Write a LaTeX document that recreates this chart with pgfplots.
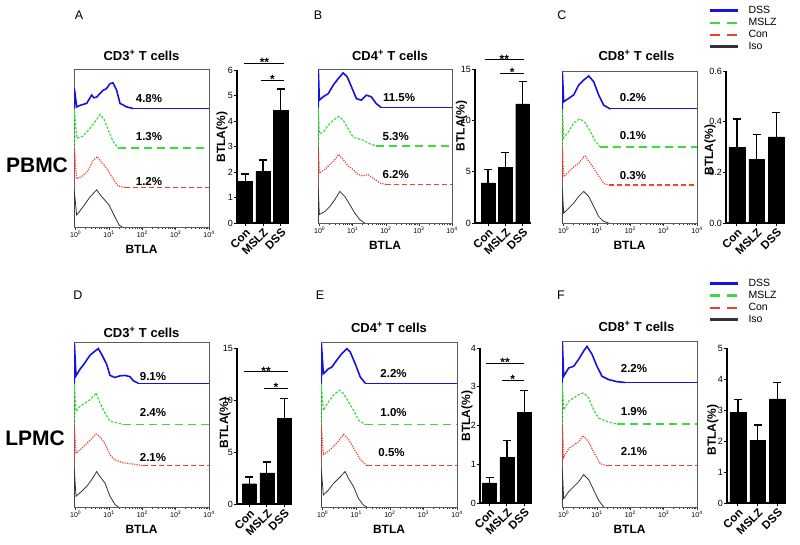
\documentclass[border=0pt]{standalone}
\usepackage{fontspec}
\setmainfont{Liberation Sans}
\usepackage{pgfplots}
\pgfplotsset{compat=1.18}
\definecolor{dssBlue}{HTML}{1414DC}
\definecolor{mslzGreen}{HTML}{3CDC3C}
\definecolor{conRed}{HTML}{F0402E}
\definecolor{isoGray}{HTML}{333333}
\newcommand{\fs}[1]{\fontsize{#1}{#1}\selectfont}

\pgfplotsset{
  hist/.style={
    scale only axis, anchor=north west,
    xmin=-0.05, xmax=4, ymin=0, ymax=4,
    xtick={0,1,2,3,4},
    xticklabels={10\textsuperscript{0},10\textsuperscript{1},10\textsuperscript{2},10\textsuperscript{3},10\textsuperscript{4}},
    minor xtick={0.301,0.477,0.602,0.699,0.778,0.845,0.903,0.954,
                 1.301,1.477,1.602,1.699,1.778,1.845,1.903,1.954,
                 2.301,2.477,2.602,2.699,2.778,2.845,2.903,2.954,
                 3.301,3.477,3.602,3.699,3.778,3.845,3.903,3.954},
    ytick=\empty, xtick pos=bottom, tick align=outside,
    major tick length=3pt, minor tick length=1.8pt,
    every tick/.style={isoGray, line width=0.5pt},
    axis line style={isoGray!80, line width=0.7pt},
    x tick label style={font=\fs{7}, inner sep=1pt},
    xlabel={\bfseries BTLA}, xlabel style={font=\fs{12}, yshift=-3pt},
    title style={font=\bfseries\fs{13}, yshift=-1pt},
    legend style={draw=none, fill=none, font=\fs{10.5}, inner sep=0pt,
      nodes={inner sep=1pt}, row sep=1.2pt, column sep=8pt, cells={anchor=west}},
  },
  dssc/.style={dssBlue, line width=1.6pt, forget plot},
  dsst/.style={dssBlue, line width=1pt, forget plot},
  mslzc/.style={mslzGreen, line width=1.2pt, dash pattern=on 2.5pt off 1.5pt, forget plot},
  mslzt/.style={mslzGreen, line width=1.2pt, dash pattern=on 8pt off 5pt, forget plot},
  conc/.style={conRed, line width=1.2pt, dash pattern=on 1.2pt off 1.2pt, forget plot},
  cont/.style={conRed, line width=1.1pt, dash pattern=on 5pt off 3pt, forget plot},
  iso/.style={isoGray, line width=0.8pt, forget plot},
  barax/.style={
    scale only axis, anchor=south west, ybar, bar width=0.8,
    ymin=0, axis lines=left, axis line style={-, line width=1.2pt},
    xtick={0,1,2}, xticklabels={Con,MSLZ,DSS},
    x tick label style={rotate=45, anchor=north east, font=\bfseries\fs{11.5}, inner sep=1pt},
    y tick label style={font=\fs{9}, inner sep=1pt},
    /pgf/number format/assume math mode=true,
    tick align=outside, major tick length=3pt,
    every tick/.style={black, line width=0.8pt},
    ylabel={\bfseries BTLA(\%)}, clip=false,
  },
  bars/.style={fill=black, draw=black,
    error bars/.cd, y dir=plus, y explicit,
    error bar style={black, line width=1.3pt},
    error mark=-,
    error mark options={rotate=90, black, line width=1.3pt, mark size=4pt}},
}
\tikzset{
  pct/.style={font=\bfseries\fs{11.5}},
  sig/.style={line width=1pt},
  star/.style={font=\bfseries\fs{12}, anchor=south, inner sep=0pt, yshift=-3.5pt},
}
\newcommand{\legdss}{\addlegendimage{legend image code/.code={\draw[dssBlue, line width=2.6pt] (0pt,0pt) -- (28pt,0pt);}}\addlegendentry{DSS}}
\newcommand{\legmslz}{\addlegendimage{legend image code/.code={\draw[mslzGreen, line width=2.2pt, dash pattern=on 10pt off 7pt] (0pt,0pt) -- (28pt,0pt);}}\addlegendentry{MSLZ}}
\newcommand{\legcon}{\addlegendimage{legend image code/.code={\draw[conRed, line width=2.2pt, dash pattern=on 10pt off 7pt] (0pt,0pt) -- (28pt,0pt);}}\addlegendentry{Con}}
\newcommand{\legiso}{\addlegendimage{legend image code/.code={\draw[isoGray, line width=2.6pt] (0pt,0pt) -- (28pt,0pt);}}\addlegendentry{Iso}}

\begin{document}
\begin{tikzpicture}
\useasboundingbox (0pt,0pt) rectangle (800pt,-545pt);

% row labels and panel letters
\node[font=\bfseries\fs{21}] at (37pt,-165pt) {PBMC};
\node[font=\bfseries\fs{21}] at (35pt,-438pt) {LPMC};
\node[font=\fs{12.5}] at (79pt,-15pt) {A};
\node[font=\fs{12.5}] at (318pt,-15pt) {B};
\node[font=\fs{12.5}] at (562pt,-15pt) {C};
\node[font=\fs{12.5}] at (78pt,-295pt) {D};
\node[font=\fs{12.5}] at (320pt,-295pt) {E};
\node[font=\fs{12.5}] at (561pt,-295pt) {F};

% ---------- A ----------
\begin{axis}[hist, at={(74pt,-69pt)}, width=135pt, height=158pt,
  title={CD3\textsuperscript{+} T cells}]
\addplot[dssc] coordinates {(-0.04,3)(-0.04,3.51)(0.03,3.04)(0.13,3.08)(0.33,3.13)(0.48,3.34)(0.55,3.27)(0.63,3.29)(0.82,3.46)(0.92,3.5)(1.03,3.63)(1.12,3.65)(1.23,3.46)(1.33,3.13)(1.53,3.04)(1.72,3)};
\addplot[dsst] coordinates {(1.72,3)(4,3)};
\addplot[mslzc] coordinates {(-0.04,2)(-0.04,2.98)(0.03,2.25)(0.22,2.30)(0.43,2.50)(0.64,2.73)(0.73,2.85)(0.85,2.73)(0.97,2.47)(1.12,2.17)(1.27,2)};
\addplot[mslzt] coordinates {(1.27,2)(4,2)};
\addplot[conc] coordinates {(-0.04,1)(-0.04,1.98)(0.03,1.22)(0.22,1.30)(0.37,1.42)(0.52,1.68)(0.64,1.78)(0.82,1.60)(0.94,1.47)(1.12,1.22)(1.27,1.04)(1.48,1)};
\addplot[cont] coordinates {(1.48,1)(4,1)};
\addplot[iso] coordinates {(-0.04,0)(-0.04,0.9)(0.03,0.30)(0.22,0.51)(0.43,0.76)(0.63,0.94)(0.75,0.80)(1.0,0.56)(1.15,0.30)(1.3,0.05)(1.4,0)};
\node[pct] at (axis cs:2.2,3.25) {4.8\%};
\node[pct] at (axis cs:2.2,2.28) {1.3\%};
\node[pct] at (axis cs:2.2,1.16) {1.2\%};
\end{axis}
\begin{axis}[barax, at={(237pt,-223pt)}, width=52pt, height=153pt,
  xmin=-0.46, xmax=2.46, ymax=6, ytick={0,1,...,6},
  ylabel style={at={(axis description cs:-0.29,0.56)}, anchor=center, font=\fs{12}}]
\addplot[bars] coordinates {(0,1.62) +- (0,0.30) (1,2.02) +- (0,0.45) (2,4.42) +- (0,0.83)};
\draw[sig] (axis cs:-0.04,6.25) -- (axis cs:2.2,6.25);
\node[star] at (axis cs:1.08,6.25) {**};
\draw[sig] (axis cs:0.86,5.6) -- (axis cs:2.2,5.6);
\node[star] at (axis cs:1.53,5.6) {*};
\end{axis}

% ---------- B ----------
\begin{axis}[hist, at={(318pt,-69pt)}, width=134pt, height=154pt,
  title={CD4\textsuperscript{+} T cells}, title style={xshift=5pt}]
\addplot[dssc] coordinates {(-0.04,3)(-0.04,3.98)(-0.01,3.19)(0.11,3.28)(0.26,3.36)(0.41,3.58)(0.56,3.75)(0.71,3.90)(0.83,3.80)(0.96,3.54)(1.11,3.23)(1.26,3.19)(1.41,3.32)(1.56,3.28)(1.71,3.10)(1.86,3)};
\addplot[dsst] coordinates {(1.86,3)(4,3)};
\addplot[mslzc] coordinates {(-0.04,2)(-0.04,2.98)(-0.01,2.32)(0.11,2.36)(0.26,2.54)(0.41,2.67)(0.56,2.75)(0.58,2.77)(0.71,2.67)(0.86,2.45)(1.01,2.23)(1.16,2.19)(1.31,2.15)(1.51,2.06)(1.71,2)};
\addplot[mslzt] coordinates {(1.71,2)(4,2)};
\addplot[conc] coordinates {(-0.04,1)(-0.04,1.98)(-0.01,1.30)(0.16,1.39)(0.31,1.52)(0.46,1.65)(0.58,1.78)(0.71,1.65)(0.86,1.48)(1.01,1.39)(1.16,1.26)(1.31,1.22)(1.46,1.26)(1.61,1.17)(1.81,1.04)(2.01,1)};
\addplot[cont] coordinates {(2.01,1)(4,1)};
\addplot[iso] coordinates {(-0.04,0)(-0.04,0.9)(-0.01,0.22)(0.16,0.30)(0.31,0.43)(0.46,0.61)(0.61,0.82)(0.76,0.69)(0.91,0.48)(1.06,0.26)(1.21,0.09)(1.36,0)};
\node[pct] at (axis cs:2.4,3.25) {11.5\%};
\node[pct] at (axis cs:2.3,2.24) {5.3\%};
\node[pct] at (axis cs:2.3,1.25) {6.2\%};
\end{axis}
\begin{axis}[barax, at={(475pt,-223pt)}, width=56pt, height=154pt,
  xmin=-0.75, xmax=2.48, ymax=15, ytick={0,5,10,15},
  ylabel style={at={(axis description cs:-0.24,0.63)}, anchor=center, font=\fs{12}}]
\addplot[bars] coordinates {(0,3.9) +- (0,1.3) (1,5.4) +- (0,1.5) (2,11.6) +- (0,2.2)};
\draw[sig] (axis cs:-0.2,15.9) -- (axis cs:2.08,15.9);
\node[star] at (axis cs:0.94,15.9) {**};
\draw[sig] (axis cs:0.7,14.6) -- (axis cs:2.08,14.6);
\node[star] at (axis cs:1.39,14.6) {*};
\end{axis}

% ---------- C ----------
\begin{axis}[hist, at={(562pt,-71pt)}, width=135pt, height=152pt,
  title={CD8\textsuperscript{+} T cells}, title style={xshift=7pt, yshift=2pt},
  legend style={at={(1.087,1.434)}, anchor=north west}]
\legdss \legmslz \legcon \legiso
\addplot[dssc] coordinates {(-0.04,3)(-0.04,3.98)(0.0,3.19)(0.15,3.28)(0.30,3.37)(0.45,3.63)(0.60,3.76)(0.75,3.87)(0.90,3.72)(1.05,3.37)(1.20,3.10)(1.40,3)};
\addplot[dsst] coordinates {(1.40,3)(4,3)};
\addplot[mslzc] coordinates {(-0.04,2)(-0.04,2.98)(0.0,2.24)(0.15,2.41)(0.30,2.63)(0.45,2.72)(0.50,2.74)(0.65,2.63)(0.80,2.41)(0.95,2.15)(1.10,2)};
\addplot[mslzt] coordinates {(1.10,2)(4,2)};
\addplot[conc] coordinates {(-0.04,1)(-0.04,1.98)(0.0,1.22)(0.15,1.35)(0.30,1.48)(0.45,1.57)(0.60,1.74)(0.65,1.76)(0.80,1.57)(1.0,1.31)(1.2,1.04)(1.35,1)};
\addplot[cont] coordinates {(1.35,1)(4,1)};
\addplot[iso] coordinates {(-0.04,0)(-0.04,0.9)(0.0,0.26)(0.15,0.39)(0.30,0.52)(0.45,0.70)(0.60,0.83)(0.75,0.70)(0.90,0.44)(1.05,0.17)(1.20,0.04)(1.35,0)};
\node[pct] at (axis cs:2.08,3.3) {0.2\%};
\node[pct] at (axis cs:2.08,2.3) {0.1\%};
\node[pct] at (axis cs:2.08,1.26) {0.3\%};
\end{axis}
\begin{axis}[barax, at={(726pt,-223pt)}, width=59pt, height=152pt,
  xmin=-0.55, xmax=2.43, ymax=0.6, ytick={0,0.2,0.4,0.6},
  yticklabel style={/pgf/number format/.cd, fixed, fixed zerofill, precision=1},
  ylabel style={at={(axis description cs:-0.27,0.48)}, anchor=center, font=\fs{12}}]
\addplot[bars] coordinates {(0,0.30) +- (0,0.11) (1,0.25) +- (0,0.10) (2,0.34) +- (0,0.095)};
\end{axis}

% ---------- D ----------
\begin{axis}[hist, at={(74pt,-342pt)}, width=135pt, height=165pt,
  title={CD3\textsuperscript{+} T cells}, title style={yshift=-4pt}]
\addplot[dssc] coordinates {(-0.04,3)(-0.04,3.98)(0.01,3.18)(0.13,3.34)(0.28,3.50)(0.43,3.68)(0.58,3.78)(0.68,3.84)(0.78,3.70)(0.93,3.46)(1.03,3.19)(1.18,3.14)(1.33,3.18)(1.48,3.19)(1.63,3.16)(1.73,3.06)(1.88,3)};
\addplot[dsst] coordinates {(1.88,3)(4,3)};
\addplot[mslzc] coordinates {(-0.04,2)(-0.04,2.98)(0.01,2.32)(0.13,2.44)(0.28,2.52)(0.43,2.60)(0.58,2.73)(0.61,2.77)(0.73,2.52)(0.88,2.28)(1.03,2.08)(1.23,2.04)(1.43,2)};
\addplot[mslzt] coordinates {(1.43,2)(4,2)};
\addplot[conc] coordinates {(-0.04,1)(-0.04,1.98)(0.01,1.30)(0.18,1.42)(0.33,1.54)(0.48,1.66)(0.61,1.77)(0.73,1.70)(0.88,1.54)(1.03,1.26)(1.18,1.14)(1.43,1.07)(1.73,1.04)(2.03,1)};
\addplot[cont] coordinates {(2.03,1)(4,1)};
\addplot[iso] coordinates {(-0.04,0)(-0.04,0.9)(0.01,0.26)(0.18,0.38)(0.33,0.50)(0.48,0.66)(0.63,0.86)(0.73,0.74)(0.88,0.58)(1.03,0.26)(1.18,0.06)(1.28,0)};
\node[pct] at (axis cs:2.32,3.17) {9.1\%};
\node[pct] at (axis cs:2.32,2.28) {2.4\%};
\node[pct] at (axis cs:2.32,1.21) {2.1\%};
\end{axis}
\begin{axis}[barax, at={(237pt,-504pt)}, width=55pt, height=156pt,
  xmin=-0.72, xmax=2.45, ymax=15, ytick={0,5,10,15},
  ylabel style={at={(axis description cs:-0.22,0.52)}, anchor=center, font=\fs{12}}]
\addplot[bars] coordinates {(0,1.95) +- (0,0.65) (1,3.0) +- (0,1.05) (2,8.25) +- (0,1.9)};
\draw[sig] (axis cs:-0.29,12.7) -- (axis cs:2.2,12.7);
\node[star] at (axis cs:0.96,12.7) {**};
\draw[sig] (axis cs:0.83,11.1) -- (axis cs:2.2,11.1);
\node[star] at (axis cs:1.52,11.1) {*};
\end{axis}

% ---------- E ----------
\begin{axis}[hist, at={(321pt,-342pt)}, width=136pt, height=165pt,
  title={CD4\textsuperscript{+} T cells}, title style={yshift=1pt}]
\addplot[dssc] coordinates {(-0.04,3)(-0.04,3.98)(0.02,3.23)(0.17,3.35)(0.27,3.39)(0.42,3.56)(0.57,3.72)(0.72,3.84)(0.82,3.76)(0.97,3.47)(1.12,3.15)(1.27,3)};
\addplot[dsst] coordinates {(1.27,3)(4,3)};
\addplot[mslzc] coordinates {(-0.04,2)(-0.04,2.98)(0.02,2.34)(0.17,2.55)(0.32,2.71)(0.49,2.83)(0.62,2.75)(0.77,2.55)(0.92,2.34)(1.07,2.10)(1.27,2)};
\addplot[mslzt] coordinates {(1.27,2)(4,2)};
\addplot[conc] coordinates {(-0.04,1)(-0.04,1.98)(0.02,1.27)(0.17,1.35)(0.32,1.47)(0.47,1.60)(0.62,1.76)(0.77,1.64)(0.92,1.43)(1.12,1.15)(1.32,1)};
\addplot[cont] coordinates {(1.32,1)(4,1)};
\addplot[iso] coordinates {(-0.04,0)(-0.04,0.9)(0.02,0.29)(0.17,0.41)(0.32,0.57)(0.52,0.73)(0.67,0.86)(0.77,0.69)(0.92,0.49)(1.07,0.20)(1.22,0.04)(1.32,0)};
\node[pct] at (axis cs:2.11,3.24) {2.2\%};
\node[pct] at (axis cs:2.11,2.28) {1.0\%};
\node[pct] at (axis cs:2.05,1.31) {0.5\%};
\end{axis}
\begin{axis}[barax, at={(480pt,-503pt)}, width=52pt, height=155pt,
  xmin=-0.55, xmax=2.45, ymax=4, ytick={0,1,...,4},
  ylabel style={at={(axis description cs:-0.25,0.56)}, anchor=center, font=\fs{12}}]
\addplot[bars] coordinates {(0,0.52) +- (0,0.14) (1,1.18) +- (0,0.43) (2,2.34) +- (0,0.57)};
\draw[sig] (axis cs:-0.18,3.6) -- (axis cs:1.98,3.6);
\node[star] at (axis cs:0.9,3.6) {**};
\draw[sig] (axis cs:0.7,3.17) -- (axis cs:1.98,3.17);
\node[star] at (axis cs:1.34,3.17) {*};
\end{axis}

% ---------- F ----------
\begin{axis}[hist, at={(562pt,-341pt)}, width=135pt, height=166pt,
  title={CD8\textsuperscript{+} T cells}, title style={xshift=7pt, yshift=1pt},
  legend style={at={(1.087,1.38)}, anchor=north west}]
\legdss \legmslz \legcon \legiso
\addplot[dssc] coordinates {(-0.04,3)(-0.04,3.98)(0.0,3.15)(0.15,3.35)(0.30,3.39)(0.45,3.56)(0.60,3.76)(0.70,3.87)(0.85,3.68)(1.0,3.39)(1.15,3.15)(1.35,3.07)(1.60,3.02)(1.85,3)};
\addplot[dsst] coordinates {(1.85,3)(4,3)};
\addplot[mslzc] coordinates {(-0.04,2)(-0.04,2.98)(0.0,2.34)(0.15,2.55)(0.30,2.63)(0.45,2.71)(0.60,2.75)(0.75,2.63)(0.90,2.34)(1.05,2.14)(1.30,2.06)(1.60,2)};
\addplot[mslzt] coordinates {(1.60,2)(4,2)};
\addplot[conc] coordinates {(-0.04,1)(-0.04,1.98)(0.0,1.20)(0.15,1.41)(0.30,1.49)(0.45,1.57)(0.58,1.72)(0.75,1.57)(0.90,1.33)(1.10,1.04)(1.30,1)};
\addplot[cont] coordinates {(1.30,1)(4,1)};
\addplot[iso] coordinates {(-0.04,0)(-0.04,0.9)(0.0,0.20)(0.15,0.37)(0.30,0.49)(0.45,0.61)(0.60,0.78)(0.75,0.66)(0.90,0.41)(1.05,0.16)(1.20,0)};
\node[pct] at (axis cs:2.11,3.34) {2.2\%};
\node[pct] at (axis cs:2.11,2.29) {1.9\%};
\node[pct] at (axis cs:2.11,1.34) {2.1\%};
\end{axis}
\begin{axis}[barax, at={(727pt,-503pt)}, width=59pt, height=155pt,
  xmin=-0.55, xmax=2.43, ymax=5, ytick={0,1,...,5},
  ylabel style={at={(axis description cs:-0.24,0.47)}, anchor=center, font=\fs{12}}]
\addplot[bars] coordinates {(0,2.92) +- (0,0.42) (1,2.02) +- (0,0.50) (2,3.36) +- (0,0.53)};
\end{axis}
\end{tikzpicture}
\end{document}
